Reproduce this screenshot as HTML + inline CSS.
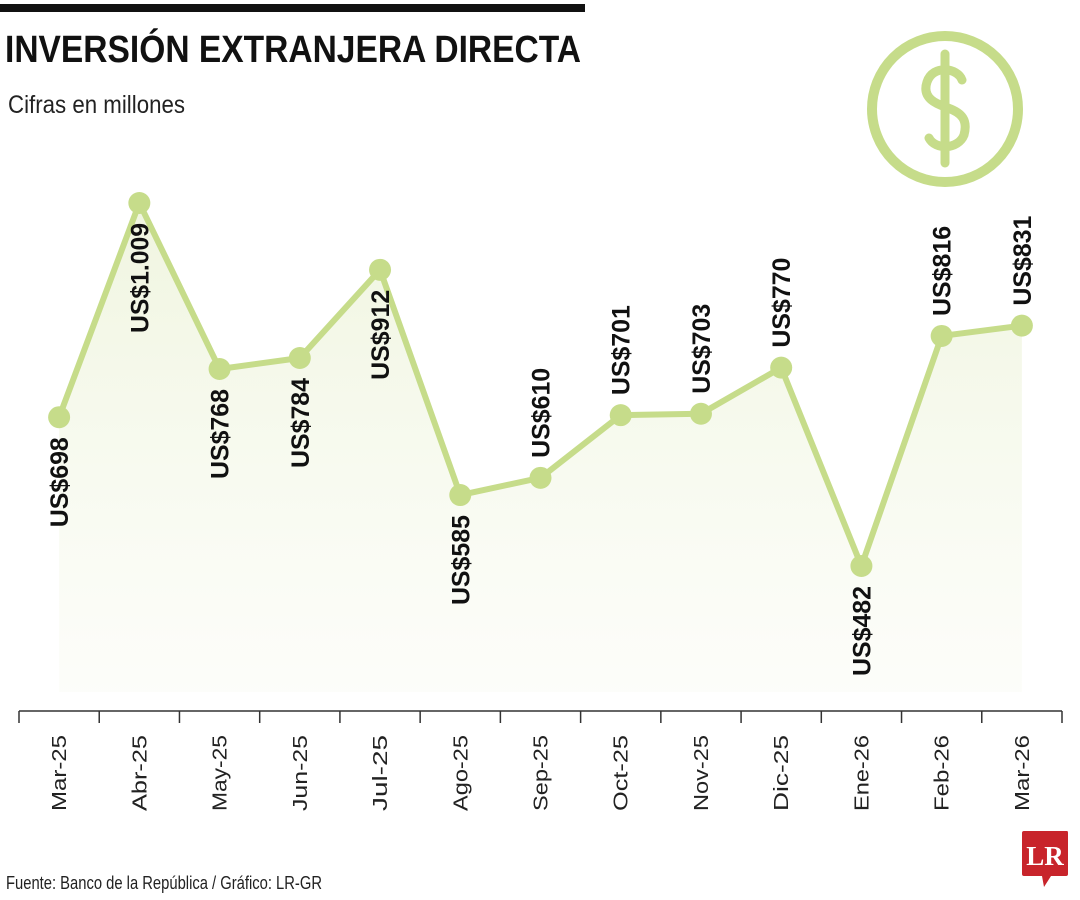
<!DOCTYPE html>
<html><head><meta charset="utf-8">
<style>
html,body{margin:0;padding:0;background:#fff;}
svg{display:block;}
</style></head>
<body>
<svg id="chart" width="1080" height="900" viewBox="0 0 1080 900" xmlns="http://www.w3.org/2000/svg">
  <defs>
    <linearGradient id="fillGrad" x1="0" y1="0" x2="0" y2="1">
      <stop offset="0" stop-color="#eef4dc" stop-opacity="0.9"/>
      <stop offset="1" stop-color="#fbfcf6" stop-opacity="0.6"/>
    </linearGradient>
  </defs>
  <rect x="0" y="4" width="585" height="8" fill="#111"/>
  <text x="5" y="62" font-family="Liberation Sans, sans-serif" font-weight="bold" font-size="38" fill="#111" textLength="576" lengthAdjust="spacingAndGlyphs">INVERSIÓN EXTRANJERA DIRECTA</text>
  <text x="8" y="113" font-family="Liberation Sans, sans-serif" font-size="25" fill="#222" textLength="177" lengthAdjust="spacingAndGlyphs">Cifras en millones</text>

  <g>
    <circle cx="945" cy="109" r="73" fill="none" stroke="#c6dc8a" stroke-width="10"/>
    <line x1="945" y1="54" x2="945" y2="163" stroke="#c6dc8a" stroke-width="9" stroke-linecap="round"/>
    <path d="M962,80 C958,68 933,64 927,82 C921,100 940,105 948,108 C962,113 968,120 964,135 C958,150 935,150 929,138" fill="none" stroke="#c6dc8a" stroke-width="9" stroke-linecap="round"/>
  </g>

  <g id="plot"></g>

  <text x="6" y="889" font-family="Liberation Sans, sans-serif" font-size="18" fill="#222" textLength="316" lengthAdjust="spacingAndGlyphs">Fuente: Banco de la República / Gráfico: LR-GR</text>

  <g>
    <path d="M1024,831 H1067 Q1068,831 1068,833 V874 Q1068,876 1066,876 H1051 L1044,887 L1042,876 H1024 Q1022,876 1022,874 V833 Q1022,831 1024,831 Z" fill="#c8242b"/>
    <text x="1045" y="865" text-anchor="middle" font-family="Liberation Serif, serif" font-weight="bold" font-size="27" fill="#fff">LR</text>
  </g>
</svg>
<script>
const categories = ["Mar-25","Abr-25","May-25","Jun-25","Jul-25","Ago-25","Sep-25","Oct-25","Nov-25","Dic-25","Ene-26","Feb-26","Mar-26"];
const values = [698,1009,768,784,912,585,610,701,703,770,482,816,831];
const valueLabels = ["US$698","US$1.009","US$768","US$784","US$912","US$585","US$610","US$701","US$703","US$770","US$482","US$816","US$831"];
const labelAbove = [false,false,false,false,false,false,true,true,true,true,false,true,true];

const NS = "http://www.w3.org/2000/svg";
const plot = document.getElementById("plot");
const x0 = 19, x1 = 1062, n = categories.length;
const band = (x1 - x0) / n;
function xScale(i){ return x0 + band * (i + 0.5); }
const vMin = 482, vMax = 1009, yMin = 566, yMax = 203;
function yScale(v){ return yMin - (v - vMin) * (yMin - yMax) / (vMax - vMin); }
const baseY = 692;

function mk(tag, attrs){ const e = document.createElementNS(NS, tag); for (const k in attrs) e.setAttribute(k, attrs[k]); return e; }

// area fill
let d = "M" + xScale(0) + "," + baseY;
values.forEach((v,i)=>{ d += " L" + xScale(i) + "," + yScale(v); });
d += " L" + xScale(n-1) + "," + baseY + " Z";
const area = mk("path", {d: d, fill: "url(#fillGrad)"});


plot.appendChild(area);

// line
const pts = values.map((v,i)=> xScale(i) + "," + yScale(v)).join(" ");
const line = mk("polyline", {points: pts, fill: "none", stroke: "#c6dc8a", "stroke-width": 6, "stroke-linejoin": "round"});


plot.appendChild(line);

// axis
const axis = mk("line", {x1: x0, y1: 711, x2: x1, y2: 711, stroke: "#333", "stroke-width": 1.5});


plot.appendChild(axis);
for (let i = 0; i <= n; i++) {
  const t = mk("line", {x1: x0 + band*i, y1: 711, x2: x0 + band*i, y2: 723, stroke: "#333", "stroke-width": 1.5});
  
  
  plot.appendChild(t);
}

values.forEach((v,i)=>{
  const cx = xScale(i), cy = yScale(v);
  const dot = mk("circle", {cx: cx, cy: cy, r: 11, fill: "#c6dc8a"});
  
  
  plot.appendChild(dot);

  // value label rotated -90
  const len = valueLabels[i].length > 6 ? 110 : 90;
  const lbl = mk("text", {"font-family": "Liberation Sans, sans-serif", "font-weight": "bold", "font-size": 25, fill: "#111", textLength: len, lengthAdjust: "spacingAndGlyphs"});
  lbl.textContent = valueLabels[i];
  let ly;
  if (labelAbove[i]) { ly = cy - 20; lbl.setAttribute("text-anchor", "start"); }
  else { ly = cy + 20; lbl.setAttribute("text-anchor", "end"); }
  lbl.setAttribute("x", 0); lbl.setAttribute("y", 0);
  lbl.setAttribute("transform", "translate(" + (cx + 9) + "," + ly + ") rotate(-90)");
  
  
  plot.appendChild(lbl);

  // category label
  const c = mk("text", {"font-family": "Liberation Sans, sans-serif", "font-size": 20, fill: "#222", "text-anchor": "end", textLength: 76, lengthAdjust: "spacingAndGlyphs", x: 0, y: 0});
  c.textContent = categories[i];
  c.setAttribute("transform", "translate(" + (cx + 7) + ",735) rotate(-90)");
  
  
  plot.appendChild(c);
});
</script>
</body></html>
